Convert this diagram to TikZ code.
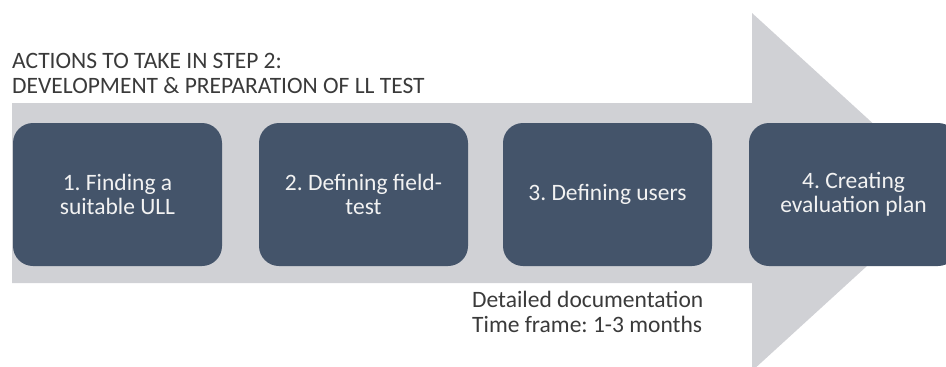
\documentclass[tikz,border=0pt]{standalone}
\usepackage{fontspec}
\setmainfont{Carlito}
\frenchspacing
\definecolor{arrowgray}{HTML}{D0D1D5}
\definecolor{boxblue}{HTML}{44546A}
\definecolor{boxtext}{HTML}{F2F2F2}
\definecolor{darktext}{HTML}{3A3A3A}
\tikzset{
  stepbox/.style={fill=boxblue, draw=none, rounded corners=20pt,
    minimum width=209pt, minimum height=143pt, inner sep=0pt,
    text=boxtext, align=center,
    font=\fontsize{23.5pt}{24pt}\selectfont},
  plaintext/.style={text=darktext, align=left, inner sep=0pt,
    font=\fontsize{23.5pt}{25pt}\selectfont}
}
\begin{document}
\begin{tikzpicture}[x=1pt,y=-1pt]
\useasboundingbox (0,0) rectangle (946,367);
\clip (0,0) rectangle (946,367);
% big arrow
\fill[arrowgray] (12,103) -- (752,103) -- (752,13) -- (948,192) -- (752,371) -- (752,283) -- (12,283) -- cycle;
% boxes
\node[stepbox] (s1) at (117.5,194.5) {1. Finding a\\suitable ULL};
\node[stepbox] (s2) at (363.5,194.5) {2. Defining field-\\test};
\node[stepbox] (s3) at (607.5,194.5) {3. Defining users};
\node[stepbox] (s4) at (853.5,194.5) {4. Creating\\evaluation plan};
% texts
\node[plaintext, anchor=north west] (title) at (12,53) {ACTIONS TO TAKE IN STEP 2:\\DEVELOPMENT \& PREPARATION OF LL TEST};
\node[plaintext, anchor=north west] (notes) at (472,291) {Detailed documentation\\Time frame: 1-3 months};
\end{tikzpicture}
\end{document}
